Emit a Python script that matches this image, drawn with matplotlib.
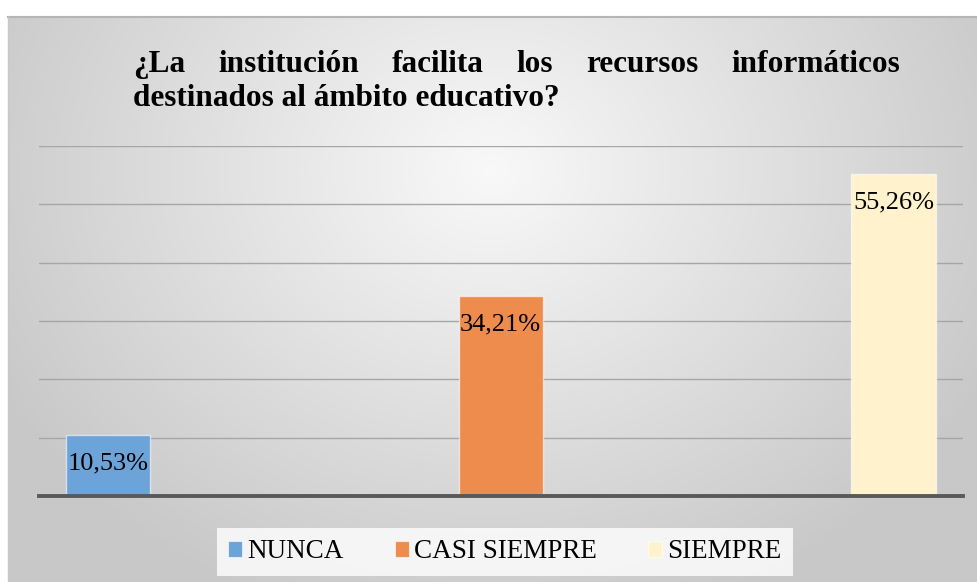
import numpy as np
import matplotlib
matplotlib.use("Agg")
import matplotlib.pyplot as plt
from matplotlib.patches import Patch

# ---- data ----
categories = ["NUNCA", "CASI SIEMPRE", "SIEMPRE"]
values = [10.53, 34.21, 55.26]
colors = ["#6CA3D8", "#EE8C4E", "#FFF2CC"]
title_line1 = ["¿La", "institución", "facilita", "los", "recursos", "informáticos"]
title_line2 = "destinados al ámbito educativo?"
grid_ticks = [10, 20, 30, 40, 50, 60]

W, H = 977, 582
fig = plt.figure(figsize=(W / 100, H / 100), dpi=100)

# ---- background with radial gradient ----
bg = fig.add_axes([0, 0, 1, 1])
bg.set_xlim(0, W)
bg.set_ylim(H, 0)
bg.axis("off")
fx0, fy0 = 8, 17
xs = np.linspace(fx0, W, 400)
ys = np.linspace(fy0, H, 250)
X, Y = np.meshgrid(xs, ys)
cx, cy = 490, 170
r = np.sqrt(((X - cx) / 560) ** 2 + ((Y - cy) / 470) ** 2)
r = np.clip(r, 0, 1)
g = 0.975 - 0.19 * r
img = np.dstack([g, g, g])
bg.imshow(img, extent=[fx0, W, H, fy0], aspect="auto", interpolation="bilinear")
bg.plot([fx0, W], [fy0, fy0], color="#b5b5b5", lw=1.5)
bg.plot([fx0, fx0], [fy0, H], color="#c8c8c8", lw=1.0)

# ---- title (justified first line) ----
fp_title = dict(family="Liberation Serif", weight="bold", size=22.5)
renderer = fig.canvas.get_renderer()
left, right = 133, 900
y1, y2 = 72, 106
texts = []
widths = []
for w_ in title_line1:
    t = bg.text(0, y1, w_, ha="left", va="baseline", **fp_title)
    texts.append(t)
    widths.append(t.get_window_extent(renderer).width)
gap = (right - left - sum(widths)) / (len(widths) - 1)
x = left
for t, wd in zip(texts, widths):
    t.set_x(x)
    x += wd + gap
bg.text(left, y2, title_line2, ha="left", va="baseline", **fp_title)

# ---- plot area ----
ax = fig.add_axes([39 / W, (H - 496) / H, 924 / W, 350 / H])
ax.patch.set_alpha(0)
xpos = np.arange(len(categories))
bars = ax.bar(xpos, values, width=0.214, color=colors,
              edgecolor=(1, 1, 1, 0.6), linewidth=1.0, zorder=3)
ax.set_xlim(-0.1757, 2.177)
ax.set_ylim(0, 60)
for t in grid_ticks:
    ax.axhline(t, color="#a6a6a6", lw=1.0, zorder=1)
ax.axhline(0, color="#595959", lw=2.8, zorder=4, clip_on=False)
for s in ax.spines.values():
    s.set_visible(False)
ax.set_xticks([])
ax.set_yticks([])

for xi, v in zip(xpos, values):
    lab = f"{v:.2f}%".replace(".", ",")
    ax.annotate(lab, (xi, v), xytext=(0, -20.5), textcoords="offset points",
                ha="center", va="center", family="Liberation Serif",
                size=19, color="black", zorder=5)

# ---- legend ----
handles = [Patch(facecolor=c, edgecolor=(1, 1, 1, 0.6), linewidth=0.8) for c in colors]
leg = fig.legend(handles, categories, loc="center", bbox_to_anchor=(505 / W, 1 - 552 / H),
                 ncol=3, frameon=True, fancybox=False,
                 handlelength=0.5, handleheight=0.5, handletextpad=0.2,
                 columnspacing=1.9, borderpad=0.42,
                 prop=dict(family="Liberation Serif", size=19.5))
leg.get_frame().set_facecolor((1, 1, 1, 0.35))
leg.get_frame().set_edgecolor("none")

fig.savefig("out.png", dpi=100)
